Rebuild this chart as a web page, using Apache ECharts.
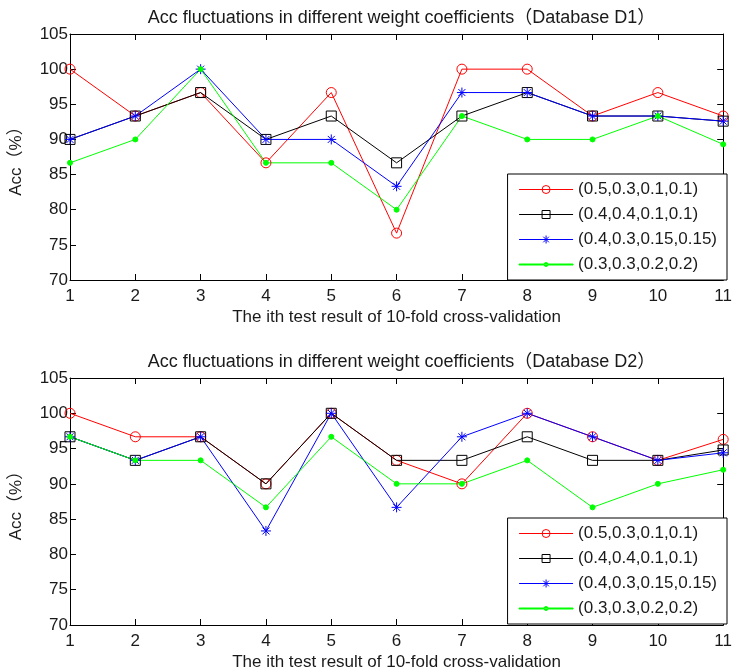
<!DOCTYPE html>
<html>
<head>
<meta charset="utf-8">
<script src="https://cdn.jsdelivr.net/npm/echarts@6/dist/echarts.min.js"></script>
<style>
  html, body { margin: 0; padding: 0; background: #fff; }
  #chart { width: 735px; height: 672px; }
</style>
</head>
<body>
<div id="chart"></div>
<script>
const folds = [1, 2, 3, 4, 5, 6, 7, 8, 9, 10, 11];
const seriesNames = ['(0.5,0.3,0.1,0.1)', '(0.4,0.4,0.1,0.1)', '(0.4,0.3,0.15,0.15)', '(0.3,0.3,0.2,0.2)'];
const yTicks = [70, 75, 80, 85, 90, 95, 100, 105];

// Database D1
const d1Red   = [100, 93.33, 96.67, 86.67, 96.67, 76.67, 100, 100, 93.33, 96.67, 93.33];
const d1Black = [90, 93.33, 96.67, 90, 93.33, 86.67, 93.33, 96.67, 93.33, 93.33, 92.6];
const d1Blue  = [90, 93.33, 100, 90, 90, 83.33, 96.67, 96.67, 93.33, 93.33, 92.6];
const d1Green = [86.67, 90, 100, 86.67, 86.67, 80, 93.33, 90, 90, 93.33, 89.3];

// Database D2
const d2Red   = [100, 96.67, 96.67, 90, 100, 93.33, 90, 100, 96.67, 93.33, 96.3];
const d2Black = [96.67, 93.33, 96.67, 90, 100, 93.33, 93.33, 96.67, 93.33, 93.33, 94.8];
const d2Blue  = [96.67, 93.33, 96.67, 83.33, 100, 86.67, 96.67, 100, 96.67, 93.33, 94.4];
const d2Green = [96.67, 93.33, 93.33, 86.67, 96.67, 90, 90, 93.33, 86.67, 90, 92];

const colors = ['#ff0000', '#000000', '#0000ff', '#00ff00'];
const FONT = '"Liberation Sans", Arial, "Noto Sans CJK SC", sans-serif';
const TXT = '#1a1a1a';
const asterisk = 'path://M5,0L5,10M0,5L10,5M1.5,1.5L8.5,8.5M1.5,8.5L8.5,1.5';
// legend icon for the dot series: thin line with a small dot in the middle
const dotLegendIcon = 'path://M0,1.5h54v1h-54zM25,2a2,2 0 1,0 4,0a2,2 0 1,0 -4,0z';

const symbolDefs = [
    { symbol: 'circle', symbolSize: 10, hollow: true },
    { symbol: 'rect', symbolSize: 10, hollow: true },
    { symbol: asterisk, symbolSize: 10, hollow: true },
    { symbol: 'circle', symbolSize: 5, hollow: false }
];

const grids = [
    { left: 66, right: 8, top: 34, height: 246 },
    { left: 66, right: 8, top: 378, height: 248 }
];

const titles = [
    'Acc fluctuations in different weight coefficients（Database D1）',
    'Acc fluctuations in different weight coefficients（Database D2）'
];

function makeSeries(values, idx, gridIdx) {
    let def = symbolDefs[idx];
    return {
        name: seriesNames[idx],
        type: 'line',
        xAxisIndex: gridIdx * 2,
        yAxisIndex: gridIdx * 2,
        data: values.map((v, i) => [folds[i], v]),
        symbol: def.symbol,
        symbolSize: def.symbolSize,
        showAllSymbol: true,
        lineStyle: { color: colors[idx], width: 1 },
        itemStyle: def.hollow
            ? { color: 'transparent', borderColor: colors[idx], borderWidth: 1 }
            : { color: colors[idx], borderColor: colors[idx], borderWidth: 1 },
        emphasis: { disabled: true }
    };
}

let xAxes = [];
let yAxes = [];
let titleList = [];

for (let g = 0; g < 2; g++) {
    let grid = grids[g];
    xAxes.push({
        gridIndex: g,
        type: 'value',
        min: 1, max: 11, interval: 1,
        name: 'The ith test result of 10-fold cross-validation',
        nameLocation: 'middle',
        nameGap: 29,
        nameTextStyle: { fontFamily: FONT, fontSize: 17, color: TXT },
        axisLine: { show: true, lineStyle: { color: '#000', width: 1 } },
        axisTick: { show: true, inside: true, length: 6, lineStyle: { color: '#000' } },
        axisLabel: { fontFamily: FONT, fontSize: 17, color: TXT, margin: 8 },
        splitLine: { show: false }
    });
    xAxes.push({
        gridIndex: g,
        type: 'value',
        position: 'top',
        min: 1, max: 11, interval: 1,
        axisLine: { show: true, lineStyle: { color: '#000', width: 1 } },
        axisTick: { show: true, inside: true, length: 6, lineStyle: { color: '#000' } },
        axisLabel: { show: false },
        splitLine: { show: false }
    });
    yAxes.push({
        gridIndex: g,
        type: 'value',
        min: yTicks[0], max: yTicks[yTicks.length - 1], interval: 5,
        name: 'Acc（%）',
        nameLocation: 'middle',
        nameGap: 45,
        nameRotate: 90,
        nameTextStyle: { fontFamily: FONT, fontSize: 17, color: TXT },
        axisLine: { show: true, lineStyle: { color: '#000', width: 1 } },
        axisTick: { show: true, inside: true, length: 6, lineStyle: { color: '#000' } },
        axisLabel: { fontFamily: FONT, fontSize: 17, color: TXT, margin: 2 },
        splitLine: { show: false }
    });
    yAxes.push({
        gridIndex: g,
        type: 'value',
        position: 'right',
        min: yTicks[0], max: yTicks[yTicks.length - 1], interval: 5,
        axisLine: { show: true, lineStyle: { color: '#000', width: 1 } },
        axisTick: { show: true, inside: true, length: 6, lineStyle: { color: '#000' } },
        axisLabel: { show: false },
        splitLine: { show: false }
    });
    titleList.push({
        text: titles[g],
        left: grid.left + (735 - grid.left - grid.right) / 2,
        textAlign: 'center',
        top: grid.top - 30,
        textStyle: { fontFamily: FONT, fontSize: 18, fontWeight: 'normal', color: TXT }
    });
}

let series = [
    makeSeries(d1Red, 0, 0),
    makeSeries(d1Black, 1, 0),
    makeSeries(d1Blue, 2, 0),
    makeSeries(d1Green, 3, 0),
    makeSeries(d2Red, 0, 1),
    makeSeries(d2Black, 1, 1),
    makeSeries(d2Blue, 2, 1),
    makeSeries(d2Green, 3, 1)
];

const legendData = seriesNames.map((n, i) =>
    i === 3 ? { name: n, icon: dotLegendIcon } : { name: n }
);

const legendBase = {
    orient: 'vertical',
    right: 8,
    itemWidth: 54,
    itemHeight: 10,
    itemGap: 8,
    padding: [7, 10, 7, 11],
    backgroundColor: '#fff',
    borderColor: '#000',
    borderWidth: 1,
    borderRadius: 0,
    selectedMode: false,
    lineStyle: { width: 1 },
    itemStyle: { borderWidth: 1 },
    textStyle: { fontFamily: FONT, fontSize: 17, color: TXT, lineHeight: 17 },
    data: legendData
};

let option = {
    animation: false,
    backgroundColor: '#fff',
    title: titleList,
    grid: grids,
    xAxis: xAxes,
    yAxis: yAxes,
    legend: [
        { ...legendBase, top: 174 },
        { ...legendBase, top: 518 }
    ],
    series
};

let myChart = echarts.init(document.getElementById('chart'));
option && myChart.setOption(option);
</script>
</body>
</html>
